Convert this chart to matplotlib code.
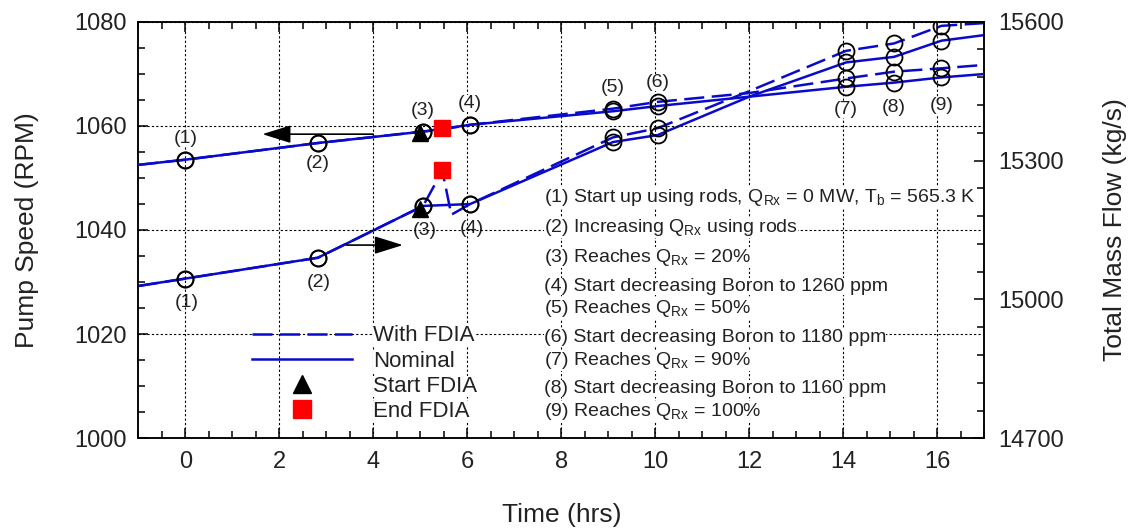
import matplotlib
matplotlib.use("Agg")
import matplotlib.pyplot as plt
from matplotlib.lines import Line2D
from matplotlib.ticker import MultipleLocator

plt.rcParams['font.family'] = ['Liberation Sans', 'DejaVu Sans']
plt.rcParams['mathtext.fontset'] = 'custom'
plt.rcParams['mathtext.rm'] = 'Liberation Sans'
plt.rcParams['mathtext.it'] = 'Liberation Sans:italic'

# nominal run
time_nom = [-1, 0, 2.82, 5.06, 6.06, 9.1, 10.05, 12.0, 14.06, 15.08, 16.09, 17]
pump_nom = [1052.5, 1053.5, 1056.7, 1058.9, 1060.2, 1062.8, 1063.8, 1065.6,
            1067.5, 1068.3, 1069.3, 1069.95]
flow_nom = [15029, 15045, 15090, 15202, 15206, 15340, 15355, 15438,
            15512, 15524, 15559, 15571]

# run with false data injection attack
time_fdia = [-1, 0, 2.82, 5.06, 5.47, 5.66, 6.06, 9.1, 10.05, 12.0, 14.06, 15.08, 16.09, 17]
pump_fdia = [1052.5, 1053.5, 1056.7, 1058.9, 1059.3, 1059.6, 1060.2, 1063.3, 1064.6,
             1066.3, 1069.1, 1070.4, 1071.05, 1071.7]
flow_fdia = [15029, 15045, 15090, 15202, 15278, 15183, 15206, 15350, 15370,
             15450, 15537, 15553, 15591, 15597]

# which points are the numbered events
events_nom = [1, 2, 3, 4, 5, 6, 8, 9, 10]
events_fdia = [1, 2, 3, 6, 7, 8, 10, 11, 12]
event_labels = ['(1)', '(2)', '(3)', '(4)', '(5)', '(6)', '(7)', '(8)', '(9)']

# start / end of the attack
start_time = 5.0
start_pump = 1058.7
start_flow = 15195
end_time = 5.47
end_pump = 1059.5
end_flow = 15280

notes = [
    r'(1) Start up using rods, Q$_{\rm Rx}$ = 0 MW, T$_{\rm b}$ = 565.3 K',
    r'(2) Increasing Q$_{\rm Rx}$ using rods',
    r'(3) Reaches Q$_{\rm Rx}$ = 20%',
    '(4) Start decreasing Boron to 1260 ppm',
    r'(5) Reaches Q$_{\rm Rx}$ = 50%',
    '(6) Start decreasing Boron to 1180 ppm',
    r'(7) Reaches Q$_{\rm Rx}$ = 90%',
    '(8) Start decreasing Boron to 1160 ppm',
    r'(9) Reaches Q$_{\rm Rx}$ = 100%',
]

blue = '#0a0acd'
lw = 1.8
dash = (0, (8, 3))
white = dict(facecolor='white', edgecolor='none', pad=0)

fig = plt.figure(figsize=(11.29, 5.29), dpi=100)
ax = fig.add_axes([0.1225, 0.1715, 0.7493, 0.7875])
ax2 = ax.twinx()

# pump speed on left axis
ax.plot(time_nom, pump_nom, color=blue, lw=lw, zorder=3)
ax.plot(time_fdia, pump_fdia, color=blue, lw=lw, ls=dash, zorder=3)
# mass flow on right axis
ax2.plot(time_nom, flow_nom, color=blue, lw=lw, zorder=3)
ax2.plot(time_fdia, flow_fdia, color=blue, lw=lw, ls=dash, zorder=3)

circ = dict(marker='o', ms=11.5, mfc='none', mec='black', mew=1.3, ls='none', zorder=4)
ax.plot([time_nom[i] for i in events_nom], [pump_nom[i] for i in events_nom], **circ)
ax.plot([time_fdia[i] for i in events_fdia], [pump_fdia[i] for i in events_fdia], **circ)
ax2.plot([time_nom[i] for i in events_nom], [flow_nom[i] for i in events_nom], **circ)
ax2.plot([time_fdia[i] for i in events_fdia], [flow_fdia[i] for i in events_fdia], **circ)

ax.plot(start_time, start_pump, marker='^', ms=11, color='black', ls='none', zorder=5)
ax2.plot(start_time, start_flow, marker='^', ms=11, color='black', ls='none', zorder=5)
ax.plot(end_time, end_pump, marker='s', ms=12, color='red', ls='none', zorder=5)
ax2.plot(end_time, end_flow, marker='s', ms=12, color='red', ls='none', zorder=5)

# event numbers
pump_dy = [15, -14.5, 15, 15, 15, 14, -16, -18, -20]
for k, lab in enumerate(event_labels):
    i = events_nom[k]
    j = events_fdia[k]
    y = pump_fdia[j] if pump_dy[k] > 0 else pump_nom[i]
    ax.annotate(lab, (time_nom[i], y), xytext=(0, pump_dy[k]), textcoords='offset points',
                ha='center', va='center', fontsize=14, color='#222222', zorder=6, bbox=white)
for k in range(4):
    i = events_nom[k]
    ax2.annotate(event_labels[k], (time_nom[i], flow_nom[i]), xytext=(1, -17.5),
                 textcoords='offset points', ha='center', va='center', fontsize=14,
                 color='#222222', zorder=6, bbox=white)

# arrows pointing at the axis each curve belongs to
arrow = dict(arrowstyle='-|>,head_length=0.8,head_width=0.25', mutation_scale=22,
             color='black', lw=1.2, shrinkA=0, shrinkB=0)
ax.annotate('', xy=(1.64, 1058.4), xytext=(4.0, 1058.4), arrowprops=arrow, zorder=6)
ax.annotate('', xy=(4.63, 1037.1), xytext=(3.43, 1037.1), arrowprops=arrow, zorder=6)

# event description block
note_y = [0.568, 0.496, 0.424, 0.3536, 0.300, 0.2319, 0.176, 0.108, 0.0542]
for txt, y in zip(notes, note_y):
    ax.text(0.4796, y, txt, transform=ax.transAxes, fontsize=14, color='#222222',
            ha='left', va='baseline', bbox=white, zorder=6)

# legend
handles = [
    Line2D([], [], color=blue, lw=lw, ls=dash),
    Line2D([], [], color=blue, lw=lw),
    Line2D([], [], marker='^', ms=13, color='black', ls='none'),
    Line2D([], [], marker='s', ms=13, color='red', ls='none'),
]
leg = ax.legend(handles, ['With FDIA', 'Nominal', 'Start FDIA', 'End FDIA'],
                loc='upper left', bbox_to_anchor=(0.1344, 0.2708), frameon=False,
                fontsize=16, handlelength=4.5, handletextpad=0.95, labelspacing=0.19,
                borderpad=0, borderaxespad=0)
for t in leg.get_texts():
    t.set_bbox(white)
    t.set_color('#222222')
leg.set_zorder(7)

# axes, ticks, grid
ax.set_xlim(-1, 17)
ax.set_ylim(1000, 1080)
ax2.set_ylim(14700, 15600)
ax.xaxis.set_major_locator(MultipleLocator(2))
ax.xaxis.set_minor_locator(MultipleLocator(0.5))
ax.yaxis.set_major_locator(MultipleLocator(20))
ax.yaxis.set_minor_locator(MultipleLocator(5))
ax2.yaxis.set_major_locator(MultipleLocator(300))
ax2.yaxis.set_minor_locator(MultipleLocator(60))

ax.grid(True, which='major', color='black', ls=(0, (2, 2)), lw=0.8)
ax.set_axisbelow(True)

for a in (ax, ax2):
    a.tick_params(which='both', direction='in', width=1.1, labelsize=17,
                  labelcolor='#222222')
    a.tick_params(which='major', length=7)
    a.tick_params(which='minor', length=5)
    for s in a.spines.values():
        s.set_linewidth(1.1)
ax.tick_params(which='both', top=True, right=False)
ax.tick_params(axis='x', pad=9)
ax.tick_params(axis='y', pad=8)
ax2.tick_params(axis='y', pad=10)

ax.set_xlabel('Time (hrs)', fontsize=19, color='#222222', labelpad=22)
ax.set_ylabel('Pump Speed (RPM)', fontsize=19, color='#222222', labelpad=25.5)
ax2.set_ylabel('Total Mass Flow (kg/s)', fontsize=19, color='#222222', labelpad=28)

# twin axes sits on top; put the left axes' artists above it
ax.set_zorder(ax2.get_zorder() + 1)
ax.patch.set_visible(False)

fig.savefig('out.png', dpi=100)
